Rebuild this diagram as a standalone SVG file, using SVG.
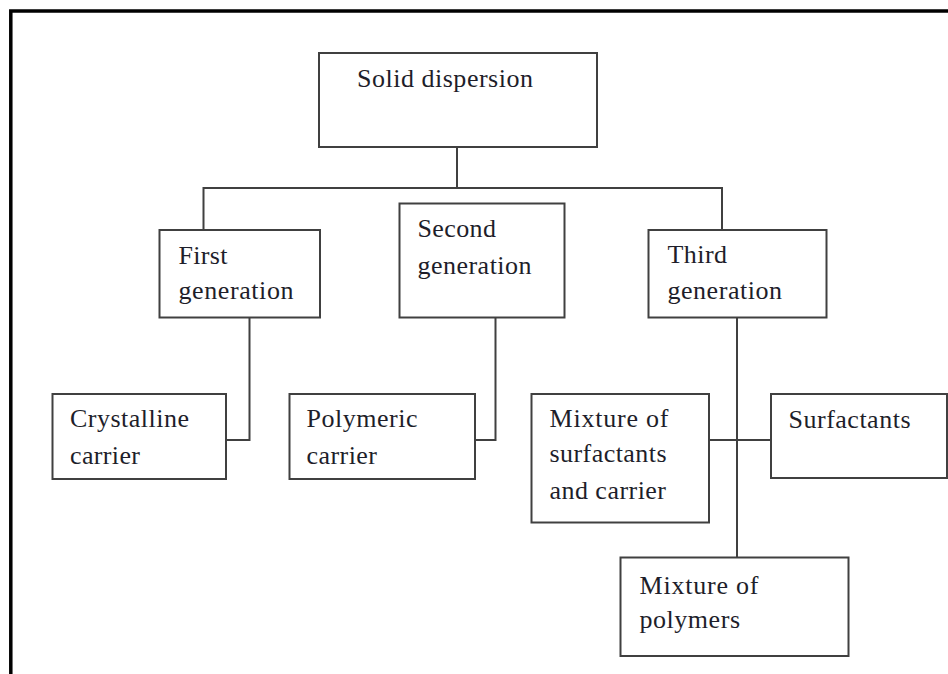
<svg xmlns="http://www.w3.org/2000/svg" width="948" height="674" viewBox="0 0 948 674">
<style>
.box{fill:#fff;stroke:#404040;stroke-width:2}
.ln{fill:none;stroke:#404040;stroke-width:2}
.frame{fill:none;stroke:#000;stroke-width:3.5}
text{font-family:"Liberation Serif","Times New Roman",serif;font-size:26px;fill:#1e1e2a}
</style>
<rect width="948" height="674" fill="#fff"/>
<path class="frame" d="M10.8 674 V11 H948"/>
<g id="connectors">
<path class="ln" d="M457 147 V188"/>
<path class="ln" d="M203.5 230 V188 H722 V230"/>
<path class="ln" d="M249.5 317 V440 H226"/>
<path class="ln" d="M495.5 317 V440 H475"/>
<path class="ln" d="M737 317 V557"/>
<path class="ln" d="M709 440 H771"/>
</g>
<g id="solid-dispersion">
<rect class="box" x="319" y="53" width="278" height="94"/>
<text x="357" y="87" textLength="176" lengthAdjust="spacing">Solid dispersion</text>
</g>
<g id="first-generation">
<rect class="box" x="159.5" y="230" width="160.5" height="87.5"/>
<text x="178.5" y="263.5" textLength="49" lengthAdjust="spacing">First</text>
<text x="178.5" y="298.5" textLength="115" lengthAdjust="spacing">generation</text>
</g>
<g id="second-generation">
<rect class="box" x="399.5" y="203.5" width="165" height="114"/>
<text x="417.5" y="237" textLength="78.5" lengthAdjust="spacing">Second</text>
<text x="417.5" y="274" textLength="114" lengthAdjust="spacing">generation</text>
</g>
<g id="third-generation">
<rect class="box" x="648.5" y="230" width="178" height="87.5"/>
<text x="667.5" y="263" textLength="59.5" lengthAdjust="spacing">Third</text>
<text x="667.5" y="298.5" textLength="114.5" lengthAdjust="spacing">generation</text>
</g>
<g id="crystalline-carrier">
<rect class="box" x="52.5" y="394" width="173.5" height="85"/>
<text x="70" y="427" textLength="119" lengthAdjust="spacing">Crystalline</text>
<text x="70" y="463.5" textLength="70" lengthAdjust="spacing">carrier</text>
</g>
<g id="polymeric-carrier">
<rect class="box" x="289.5" y="394" width="185.5" height="85"/>
<text x="306.5" y="427" textLength="111" lengthAdjust="spacing">Polymeric</text>
<text x="306.5" y="463.5" textLength="70.5" lengthAdjust="spacing">carrier</text>
</g>
<g id="mixture-surfactants-carrier">
<rect class="box" x="531.5" y="394" width="177.5" height="128.5"/>
<text x="549.5" y="427" textLength="119" lengthAdjust="spacing">Mixture of</text>
<text x="549.5" y="462" textLength="117" lengthAdjust="spacing">surfactants</text>
<text x="549.5" y="498.5" textLength="116.5" lengthAdjust="spacing">and carrier</text>
</g>
<g id="surfactants">
<rect class="box" x="771" y="394" width="176" height="84"/>
<text x="788.5" y="428" textLength="122" lengthAdjust="spacing">Surfactants</text>
</g>
<g id="mixture-polymers">
<rect class="box" x="620.5" y="557.5" width="228" height="98.5"/>
<text x="639.5" y="593.5" textLength="119" lengthAdjust="spacing">Mixture of</text>
<text x="639.5" y="627.5" textLength="100.5" lengthAdjust="spacing">polymers</text>
</g>
</svg>
